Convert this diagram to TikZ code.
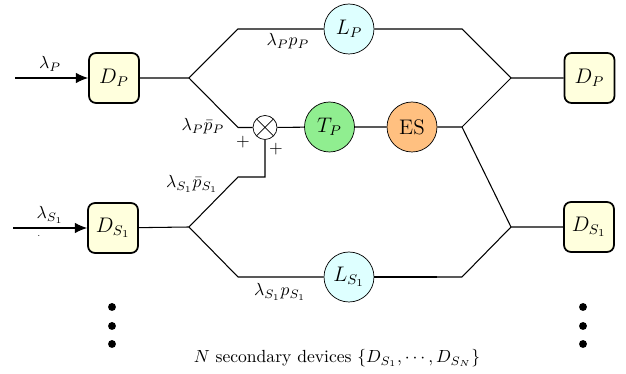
\documentclass[tikz,border=0pt]{standalone}
\usetikzlibrary{arrows.meta}
\definecolor{devyellow}{RGB}{255,255,221}
\definecolor{lcyan}{RGB}{222,255,255}
\definecolor{lgreen}{RGB}{144,238,144}
\definecolor{lorange}{RGB}{255,192,128}
\begin{document}
\begin{tikzpicture}[x=0.02cm,y=-0.02cm,
  dev/.style={draw, line width=1pt, rounded corners=4pt, fill=devyellow, minimum size=1cm, inner sep=0pt, font=\large},
  circ/.style={draw, circle, minimum size=1cm, inner sep=0pt, font=\large},
  wire/.style={line width=0.6pt},
  lab/.style={inner sep=1pt},
  dotc/.style={circle, fill=black, inner sep=0pt, minimum size=4.5pt}]
\useasboundingbox (0,0) rectangle (626,374);
% nodes
\node[dev] (DP) at (114,78) {$D_P$};
\node[dev] (DPr) at (589.5,78) {$D_P$};
\node[dev] (DS) at (113,228) {$D_{S_1}$};
\node[dev] (DSr) at (589,227) {$D_{S_1}$};
\node[circ, fill=lcyan] (LP) at (349,29) {$L_P$};
\node[circ, fill=lgreen] (TP) at (329.5,127) {$T_P$};
\node[circ, fill=lorange] (ES) at (412,127) {ES};
\node[circ, fill=lcyan] (LS) at (349,277) {$L_{S_1}$};
\node[draw, circle, minimum size=0.48cm, inner sep=0pt, fill=white,
  path picture={\draw (path picture bounding box.north west)--(path picture bounding box.south east)
  (path picture bounding box.north east)--(path picture bounding box.south west);}] (X) at (265,127.5) {};
% coordinates
\coordinate (inP) at (15,78);
\coordinate (sP) at (189,78);
\coordinate (a1) at (238,29);
\coordinate (a2) at (462,29);
\coordinate (jP) at (511,78);
\coordinate (b1) at (238,127.5);
\coordinate (b2) at (462,127);
\coordinate (jS) at (511,227);
\coordinate (inS) at (13,228);
\coordinate (sS) at (189,227);
\coordinate (c1) at (238,177);
\coordinate (d1) at (238,277);
\coordinate (d2) at (462,277);
\coordinate (e1) at (437,277);
% connectors
\draw[wire, -{Latex[length=7pt,width=6pt]}] (inP) -- (DP);
\draw[wire, -{Latex[length=7pt,width=6pt]}] (inS) -- (DS);
\draw[wire] (DP) -- (sP) -- (a1) -- (LP) -- (a2) -- (jP) -- (DPr);
\draw[wire] (sP) -- (b1) -- (X) -- (TP) -- (ES) -- (b2) -- (jP);
\draw[wire] (b2) -- (jS) -- (DSr);
\draw[wire] (X.south) |- (c1) -- (sS) -- (DS);
\draw[wire] (sS) -- (d1) -- (LS);
\draw[line width=1.2pt] (LS) -- (e1);
\draw[wire] (e1) -- (d2) -- (jS);
% labels
\node[lab] (l1) at (50,64) {$\lambda_P$};
\node[lab] (l2) at (50,215) {$\lambda_{S_1}$};
\node[lab, font=\tiny] (l3) at (39,236) {.};
\node[lab] (l4) at (288,41) {$\lambda_P p_P$};
\node[lab] (l5) at (203,126) {$\lambda_P \bar{p}_P$};
\node[lab] (l6) at (243,142) {$+$};
\node[lab] (l7) at (276,149) {$+$};
\node[lab] (l8) at (192,184) {$\lambda_{S_1}\bar{p}_{S_1}$};
\node[lab] (l9) at (280,292) {$\lambda_{S_1}p_{S_1}$};
\node[lab] (l10) at (337,358) {$N$ secondary devices $\{D_{S_1},\cdots,D_{S_N}\}$};
% dots
\foreach \yy in {307,326,344} {
  \node[dotc] at (112,\yy) {};
  \node[dotc] at (583,\yy) {};
}
\end{tikzpicture}
\end{document}
